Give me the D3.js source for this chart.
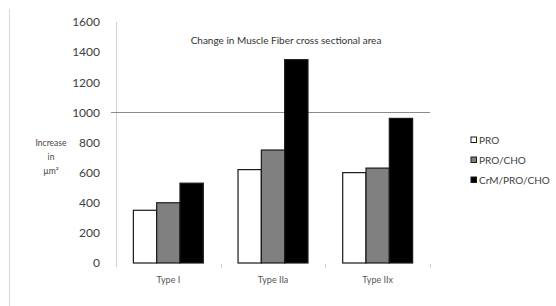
<!DOCTYPE html>
<html>
<head>
<meta charset="utf-8">
<script src="https://cdn.jsdelivr.net/npm/d3@7"></script>
<style>
  body { margin: 0; background: #fff; }
  text { font-family: Lato, "Open Sans", sans-serif; }
</style>
</head>
<body>
<div id="chart"></div>
<script>
var svgWidth = 556;
var svgHeight = 306;

// data
var categories = ["Type I", "Type IIa", "Type IIx"];
var seriesNames = ["PRO", "PRO/CHO", "CrM/PRO/CHO"];
var proValues = [350, 620, 600];
var proChoValues = [400, 750, 630];
var crmValues = [530, 1350, 960];
var yTicks = [0, 200, 400, 600, 800, 1000, 1200, 1400, 1600];
var seriesColors = ["#ffffff", "#808080", "#000000"];

var seriesValues = [proValues, proChoValues, crmValues];

var svg = d3.select("#chart")
    .append("svg")
    .attr("width", svgWidth)
    .attr("height", svgHeight);

// outer frame line on the left
svg.append("line")
    .attr("x1", 9.5).attr("x2", 9.5)
    .attr("y1", 9).attr("y2", svgHeight)
    .attr("stroke", "#d9d9d9");

var yScale = d3.scaleLinear()
    .domain([0, 1600])
    .range([263, 22]);

var xScale = d3.scaleBand()
    .domain(categories)
    .range([116, 430])
    .padding(0);

var xInner = d3.scaleBand()
    .domain(seriesNames)
    .range([0, xScale.bandwidth()])
    .paddingInner(0)
    .paddingOuter(0.745);

// y axis
var leftAxis = d3.axisLeft(yScale)
    .tickValues(yTicks)
    .tickSize(0)
    .tickPadding(16)
    .tickFormat(d3.format("d"));

var yAxis = svg.append("g")
    .attr("transform", "translate(116,0)")
    .call(leftAxis);

yAxis.select(".domain")
    .attr("stroke", "#d0d0d0")
    .attr("d", "M0.5,22V267");

yAxis.selectAll("text")
    .attr("font-size", 12)
    .attr("fill", "#404040");

// the single line at 1000
svg.append("line")
    .attr("x1", 111).attr("x2", 430)
    .attr("y1", Math.round(yScale(1000)) + 0.5)
    .attr("y2", Math.round(yScale(1000)) + 0.5)
    .attr("stroke", "#8c8c8c");

// x axis: only small ticks and labels
var bottomAxis = d3.axisBottom(xScale).tickSize(0).tickPadding(14);
var xAxis = svg.append("g")
    .attr("transform", "translate(0,263)")
    .call(bottomAxis);
xAxis.select(".domain").remove();
xAxis.selectAll("text")
    .attr("font-size", 9)
    .attr("fill", "#555");

categories.forEach(function(c) {
    var x = Math.round(xScale(c) + xScale.bandwidth());
    svg.append("line")
        .attr("x1", x + 0.5).attr("x2", x + 0.5)
        .attr("y1", 264).attr("y2", 268)
        .attr("stroke", "#d0d0d0");
});

// bars
var groups = svg.selectAll(".group")
    .data(categories)
    .enter()
    .append("g")
    .attr("transform", d => `translate(${xScale(d)},0)`);

groups.selectAll("rect")
    .data((c, i) => seriesNames.map((s, j) => ({ s: s, j: j, v: seriesValues[j][i] })))
    .enter()
    .append("rect")
    .attr("x", d => xInner(d.s))
    .attr("y", d => yScale(d.v))
    .attr("width", xInner.bandwidth())
    .attr("height", d => yScale(0) - yScale(d.v))
    .attr("fill", d => seriesColors[d.j])
    .attr("stroke", "#1a1a1a")
    .attr("stroke-width", 1.2);

// title
svg.append("text")
    .attr("x", 286)
    .attr("y", 44)
    .attr("text-anchor", "middle")
    .attr("font-size", 10)
    .attr("fill", "#333")
    .text("Change in Muscle Fiber cross sectional area");

// y label
var yLabel = ["Increase", "in", "\u00b5m\u00b2"];
svg.append("g").selectAll("text")
    .data(yLabel)
    .enter()
    .append("text")
    .attr("x", 51)
    .attr("y", (d, i) => 146 + i * 14)
    .attr("text-anchor", "middle")
    .attr("font-size", 8.5)
    .attr("fill", "#444")
    .text(d => d);

// legend
var legend = svg.append("g").selectAll("g")
    .data(seriesNames)
    .enter()
    .append("g")
    .attr("transform", (d, i) => `translate(471,${137 + i * 20})`);

legend.append("rect")
    .attr("width", 5.5)
    .attr("height", 5.5)
    .attr("fill", (d, i) => seriesColors[i])
    .attr("stroke", "#1a1a1a");

legend.append("text")
    .attr("x", 8)
    .attr("y", 6.5)
    .attr("font-size", 10)
    .attr("fill", "#404040")
    .text(d => d);
</script>
</body>
</html>
